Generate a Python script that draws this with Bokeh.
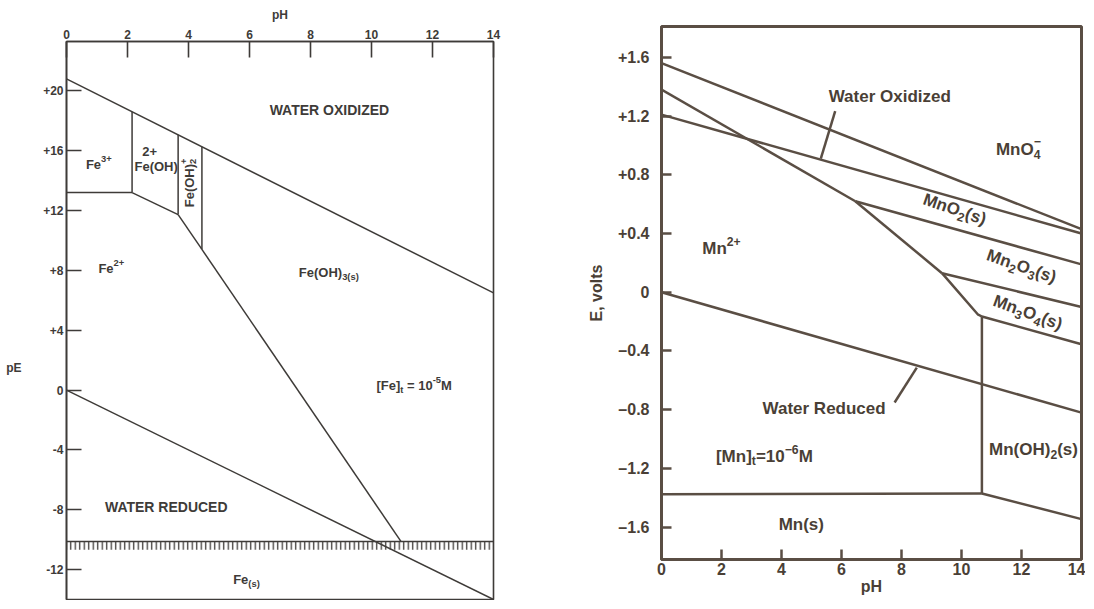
import math
from bokeh.plotting import figure
from bokeh.layouts import row, column
from bokeh.models import Range1d, FixedTicker, LinearAxis, ColumnDataSource
from bokeh.core.properties import value
from bokeh.embed import file_html
from bokeh.resources import INLINE

# ---------------- Fe diagram (pE vs pH) ----------------
fe_ph_ticks = [0, 2, 4, 6, 8, 10, 12, 14]
fe_pe_ticks = [20, 16, 12, 8, 4, 0, -4, -8, -12]
fe_pe_tick_labels = ["+20", "+16", "+12", "+8", "+4", "0", "-4", "-8", "-12"]
fe_pe_title_at = 1.5

fe_water_ox_ph = [0, 14]
fe_water_ox_pe = [20.8, 6.5]
fe_water_red_ph = [0, 14]
fe_water_red_pe = [0, -14]
fe3_fe2_ph = [0, 2.15]
fe3_fe2_pe = [13.2, 13.2]
fe3_feoh_ph = [2.15, 2.15]
fe3_feoh_pe = [13.2, 18.6]
feoh_fe2_ph = [2.15, 3.66]
feoh_fe2_pe = [13.2, 11.73]
feoh_feoh2_ph = [3.66, 3.66]
feoh_feoh2_pe = [11.73, 17.06]
feoh2_fe2_ph = [3.66, 4.44]
feoh2_fe2_pe = [11.73, 9.4]
feoh2_feoh3_ph = [4.44, 4.44]
feoh2_feoh3_pe = [9.4, 16.27]
feoh3_fe2_ph = [4.44, 10.97]
feoh3_fe2_pe = [9.4, -10.13]
fe2_fes_ph = [0, 14]
fe2_fes_pe = [-10.13, -10.13]
fe_hatch_depth = 0.55

fe_label_parts = [
    [("WATER OXIDIZED", "n")],
    [("Fe", "n"), ("3+", "sup")],
    [("2+", "n")],
    [("Fe(OH)", "n")],
    [("Fe", "n"), ("2+", "sup")],
    [("Fe(OH)", "n"), ("3(s)", "sub")],
    [("[Fe]", "n"), ("t", "sub"), ("\u00a0=\u00a010", "n"), ("-5", "sup"), ("M", "n")],
    [("WATER REDUCED", "n")],
    [("Fe", "n"), ("(s)", "sub")],
    [("Fe(OH)", "n"), ("+", "sup0"), ("2", "sub")],
]
fe_label_ph = [8.65, 1.06, 2.73, 2.94, 1.47, 8.6, 11.4, 3.3, 5.9, 4.02]
fe_label_pe = [18.75, 15.05, 15.94, 14.93, 8.1, 7.84, 0.32, -7.85, -12.67, 13.84]
fe_label_angle = [0, 0, 0, 0, 0, 0, 0, 0, 0, math.pi / 2]
fe_label_size = [14, 13, 13, 13, 13, 13, 13, 14, 13, 13]

# ---------------- Mn diagram (E vs pH) ----------------
mn_ph_ticks = [0, 2, 4, 6, 8, 10, 12, 14]
mn_e_ticks = [1.6, 1.2, 0.8, 0.4, 0, -0.4, -0.8, -1.2, -1.6]
mn_e_tick_labels = ["+1.6", "+1.2", "+0.8", "+0.4", "0", "–0.4", "–0.8", "–1.2", "–1.6"]

mn_mno4_mno2_ph = [0, 14]
mn_mno4_mno2_e = [1.56, 0.43]
mn_water_ox_ph = [0, 14]
mn_water_ox_e = [1.21, 0.40]
mn_mn2_mno2_ph = [0, 6.46]
mn_mn2_mno2_e = [1.38, 0.62]
mn_mno2_mn2o3_ph = [6.46, 14]
mn_mno2_mn2o3_e = [0.62, 0.19]
mn_mn2_mn2o3_ph = [6.46, 9.35]
mn_mn2_mn2o3_e = [0.62, 0.13]
mn_mn2o3_mn3o4_ph = [9.35, 14]
mn_mn2o3_mn3o4_e = [0.13, -0.10]
mn_mn2_mn3o4_ph = [9.35, 10.54, 10.68]
mn_mn2_mn3o4_e = [0.13, -0.15, -0.165]
mn_mn3o4_mnoh2_ph = [10.68, 14]
mn_mn3o4_mnoh2_e = [-0.165, -0.354]
mn_mn2_mnoh2_ph = [10.68, 10.68]
mn_mn2_mnoh2_e = [-0.165, -1.37]
mn_mn2_mns_ph = [0, 10.68]
mn_mn2_mns_e = [-1.375, -1.37]
mn_mnoh2_mns_ph = [10.68, 14]
mn_mnoh2_mns_e = [-1.37, -1.545]
mn_water_red_ph = [0, 14]
mn_water_red_e = [0.0, -0.82]

mn_ptr_ox_ph = [5.79, 5.31]
mn_ptr_ox_e = [1.234, 0.91]
mn_ptr_red_ph = [7.77, 8.51]
mn_ptr_red_e = [-0.751, -0.513]

mn_label_parts = [
    [("Water Oxidized", "n")],
    [("MnO", "n"), ("−", "sup0"), ("4", "sub")],
    [("Mn", "n"), ("2+", "sup")],
    [("Water Reduced", "n")],
    [("[Mn]", "n"), ("t", "sub"), ("=10", "n"), ("−6", "sup"), ("M", "n")],
    [("Mn(OH)", "n"), ("2", "sub"), ("(s)", "n")],
    [("Mn(s)", "n")],
    [("MnO", "n"), ("2", "sub"), ("(s)", "n")],
    [("Mn", "n"), ("2", "sub"), ("O", "n"), ("3", "sub"), ("(s)", "n")],
    [("Mn", "n"), ("3", "sub"), ("O", "n"), ("4", "sub"), ("(s)", "n")],
]
mn_label_ph = [7.62, 11.89, 2.0, 5.43, 3.43, 12.4, 4.66, 9.77, 12.0, 12.21]
mn_label_e = [1.33, 0.975, 0.30, -0.79, -1.117, -1.07, -1.58, 0.565, 0.177, -0.138]
mn_label_angle = [0, 0, 0, 0, 0, 0, 0, -0.33, -0.33, -0.35]

# ---------------- styles ----------------
FE_INK = "#3e3b38"
MN_INK = "#5a4e44"
MN_TXT = "#4a3f36"
FONT = "Liberation Sans"
MN_SIZE = 17

# Liberation Sans Bold advance widths (per 1000 em), used to lay out sub/superscripts
ADV = {' ': 278, '\u00a0': 278, '(': 333, ')': 333, '+': 584, '-': 333, '−': 584, '.': 278,
       '=': 584, '[': 333, ']': 333, 'A': 722, 'C': 722, 'D': 722, 'E': 667, 'F': 611,
       'H': 722, 'I': 278, 'M': 833, 'N': 722, 'O': 778, 'R': 722, 'T': 611, 'U': 722,
       'W': 944, 'X': 667, 'Z': 611, 'a': 556, 'c': 556, 'd': 611, 'e': 556, 'i': 278,
       'n': 611, 'r': 389, 's': 556, 't': 333, 'u': 611, 'x': 556, 'z': 500}


def tw(s, size):
    return sum(ADV.get(ch, 556) for ch in s) * size / 1000.0


def rich(parts_list, xs, ys, angles, sizes):
    out = dict(x=[], y=[], text=[], xo=[], yo=[], size=[], angle=[])
    for parts, x, y, th, s in zip(parts_list, xs, ys, angles, sizes):
        small = 0.72 * s
        segs = []
        total = 0.0
        for txt, kind in parts:
            fs = s if kind == "n" else small
            w = tw(txt, fs)
            segs.append((txt, kind, fs, w))
            if kind != "sup0":
                total += w
        a = -total / 2.0
        for txt, kind, fs, w in segs:
            up = {"n": 0.0, "sub": -0.3 * s, "sup": 0.42 * s, "sup0": 0.42 * s}[kind]
            dx = a * math.cos(th) - up * math.sin(th)
            dy = -a * math.sin(th) - up * math.cos(th)
            out["x"].append(x)
            out["y"].append(y)
            out["text"].append(txt)
            out["xo"].append(dx)
            out["yo"].append(dy)
            out["size"].append("%.1fpx" % fs)
            out["angle"].append(th)
            if kind != "sup0":
                a += w
    return ColumnDataSource(out)


def style_axis(a, ink, size_lab, size_title, lw):
    a.minor_tick_line_color = None
    a.axis_line_color = ink
    a.axis_line_width = lw
    a.major_tick_line_color = ink
    a.major_label_text_font = FONT
    a.major_label_text_font_style = "bold"
    a.major_label_text_font_size = size_lab
    a.major_label_text_color = ink
    a.axis_label_text_font = FONT
    a.axis_label_text_font_style = "bold"
    a.axis_label_text_font_size = size_title
    a.axis_label_text_color = ink


# ======== Fe figure ========
p1 = figure(width=579, height=600, x_range=Range1d(0, 14), y_range=Range1d(-14, 23.3),
            x_axis_location="above", output_backend="svg", toolbar_location=None,
            min_border_left=66, min_border_right=86, min_border_top=41, min_border_bottom=1)
p1.grid.visible = False
p1.outline_line_color = FE_INK
p1.outline_line_width = 1.6
p1.background_fill_color = "white"
p1.border_fill_color = "white"

xa = p1.xaxis[0]
xa.ticker = FixedTicker(ticks=fe_ph_ticks)
xa.axis_label = "pH"
xa.axis_label_standoff = 5
xa.major_label_standoff = 3
xa.major_tick_in = 16
xa.major_tick_out = 0

ya = p1.yaxis[0]
ya.ticker = FixedTicker(ticks=fe_pe_ticks)
ya.major_label_overrides = {t: l for t, l in zip(fe_pe_ticks, fe_pe_tick_labels)}
ya.major_label_standoff = 3
ya.major_tick_in = 15
ya.major_tick_out = 0

for a in (xa, ya):
    style_axis(a, FE_INK, "12px", "12px", 1.6)
    a.major_tick_line_width = 1.6

# outer left axis that only carries the "pE" title at its height on the scale
pe_axis = LinearAxis(ticker=FixedTicker(ticks=[fe_pe_title_at]),
                     major_label_overrides={fe_pe_title_at: "pE"})
style_axis(pe_axis, FE_INK, "12px", "12px", 1)
pe_axis.axis_line_color = None
pe_axis.major_tick_line_color = None
pe_axis.major_tick_in = 0
pe_axis.major_tick_out = 0
pe_axis.major_label_standoff = 19
p1.add_layout(pe_axis, "left")

fe_xs = [fe_water_ox_ph, fe_water_red_ph, fe3_fe2_ph, fe3_feoh_ph, feoh_fe2_ph,
         feoh_feoh2_ph, feoh2_fe2_ph, feoh2_feoh3_ph, feoh3_fe2_ph, fe2_fes_ph]
fe_ys = [fe_water_ox_pe, fe_water_red_pe, fe3_fe2_pe, fe3_feoh_pe, feoh_fe2_pe,
         feoh_feoh2_pe, feoh2_fe2_pe, feoh2_feoh3_pe, feoh3_fe2_pe, fe2_fes_pe]
p1.multi_line(xs=fe_xs, ys=fe_ys, line_color=FE_INK, line_width=1.5)

# hatched band under the Fe2+/Fe(s) boundary
p1.varea(x=fe2_fes_ph, y1=fe2_fes_pe, y2=[v - fe_hatch_depth for v in fe2_fes_pe],
         fill_color=None, fill_alpha=0, hatch_pattern="vertical_line",
         hatch_color=FE_INK, hatch_scale=4.5, hatch_weight=1.3)

fe_src = rich(fe_label_parts, fe_label_ph, fe_label_pe, fe_label_angle, fe_label_size)
p1.text(x="x", y="y", text="text", x_offset="xo", y_offset="yo", angle="angle",
        text_font_size="size", source=fe_src, text_align="left", text_baseline="middle",
        text_font=value(FONT), text_font_style="bold", text_color=FE_INK)

# ======== Mn figure ========
p2 = figure(width=506, height=600, x_range=Range1d(0, 14), y_range=Range1d(-1.82, 1.81),
            output_backend="svg", toolbar_location=None,
            min_border_left=82, min_border_right=4, min_border_top=26, min_border_bottom=41)
p2.grid.visible = False
p2.outline_line_color = MN_INK
p2.outline_line_width = 3
p2.background_fill_color = "white"
p2.border_fill_color = "white"

bx = p2.xaxis[0]
bx.ticker = FixedTicker(ticks=mn_ph_ticks)
bx.axis_label = "pH"
bx.major_label_standoff = 3
bx.axis_label_standoff = 0
by = p2.yaxis[0]
by.ticker = FixedTicker(ticks=mn_e_ticks)
by.major_label_overrides = {t: l for t, l in zip(mn_e_ticks, mn_e_tick_labels)}
by.axis_label = "E, volts"
by.major_label_standoff = 12
by.axis_label_standoff = 10
for a in (bx, by):
    style_axis(a, MN_TXT, "16px", "16px", 3)
    a.axis_line_color = MN_INK
    a.major_tick_line_color = MN_INK
    a.major_tick_line_width = 2.5
    a.major_tick_in = 10
    a.major_tick_out = 0

mn_xs = [mn_mno4_mno2_ph, mn_water_ox_ph, mn_mn2_mno2_ph, mn_mno2_mn2o3_ph, mn_mn2_mn2o3_ph,
         mn_mn2o3_mn3o4_ph, mn_mn2_mn3o4_ph, mn_mn3o4_mnoh2_ph, mn_mn2_mnoh2_ph,
         mn_mn2_mns_ph, mn_mnoh2_mns_ph, mn_water_red_ph, mn_ptr_ox_ph, mn_ptr_red_ph]
mn_ys = [mn_mno4_mno2_e, mn_water_ox_e, mn_mn2_mno2_e, mn_mno2_mn2o3_e, mn_mn2_mn2o3_e,
         mn_mn2o3_mn3o4_e, mn_mn2_mn3o4_e, mn_mn3o4_mnoh2_e, mn_mn2_mnoh2_e,
         mn_mn2_mns_e, mn_mnoh2_mns_e, mn_water_red_e, mn_ptr_ox_e, mn_ptr_red_e]
p2.multi_line(xs=mn_xs, ys=mn_ys, line_color=MN_INK, line_width=2.5)

mn_src = rich(mn_label_parts, mn_label_ph, mn_label_e, mn_label_angle,
              [MN_SIZE] * len(mn_label_parts))
p2.text(x="x", y="y", text="text", x_offset="xo", y_offset="yo", angle="angle",
        text_font_size="size", source=mn_src, text_align="left", text_baseline="middle",
        text_font=value(FONT), text_font_style="bold", text_color=MN_TXT)

layout = row(column(p1), column(p2))
open("out.html", "w").write(file_html(layout, INLINE))
